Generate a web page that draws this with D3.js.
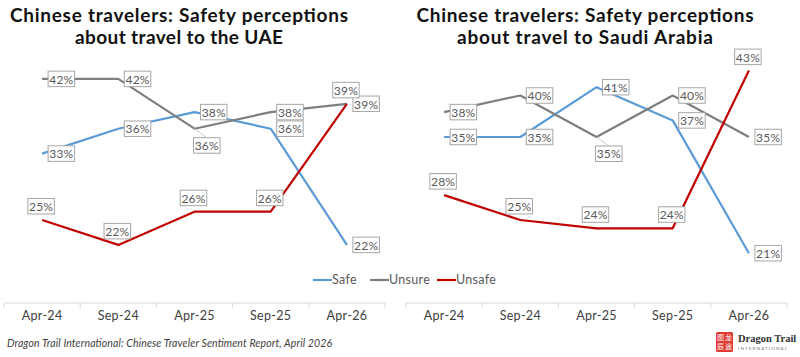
<!DOCTYPE html>
<html>
<head>
<meta charset="utf-8">
<script src="https://cdn.jsdelivr.net/npm/d3@7"></script>
<style>
  body { margin: 0; background: #fff; }
  svg { display: block; }
</style>
</head>
<body>
<svg id="chart" width="800" height="357"></svg>
<script>
// categories and values
const categories = ["Apr-24", "Sep-24", "Apr-25", "Sep-25", "Apr-26"];
const seriesNames = ["Safe", "Unsure", "Unsafe"];

const uaeSafe = [33, 36, 38, 36, 22];
const uaeUnsure = [42, 42, 36, 38, 39];
const uaeUnsafe = [25, 22, 26, 26, 39];

const saudiSafe = [35, 35, 41, 37, 21];
const saudiUnsure = [38, 40, 35, 40, 35];
const saudiUnsafe = [28, 25, 24, 24, 43];

const yDomain = [15, 45];

// where each data label sits: r = right of point, a = above, b = below (with leader)
const uaeLabelPos = [["r", "r", "r", "r", "r"], ["r", "r", "b", "r", "r"], ["a", "a", "a", "a", "a"]];
const saudiLabelPos = [["r", "r", "r", "r", "r"], ["r", "r", "b", "r", "r"], ["a", "a", "a", "a", "a"]];

const colors = { Safe: "#5b9bd5", Unsure: "#7f7f7f", Unsafe: "#c00000" };
const FONT = "Lato, 'Open Sans', sans-serif";

const svg = d3.select("#chart");

function drawChart(opts) {
  const g = svg.append("g").attr("class", "panel");
  const x = d3.scaleBand().domain(categories).range(opts.xRange);
  const y = d3.scaleLinear().domain(yDomain).range([303, 54]);
  const cx = c => x(c) + x.bandwidth() / 2;

  // title, 2 lines, stretched to the reference's width
  opts.title.forEach((t, i) => {
    g.append("text")
      .attr("x", opts.titleX).attr("y", 22 + i * 21.5)
      .attr("text-anchor", "middle")
      .attr("textLength", opts.titleW[i]).attr("lengthAdjust", "spacing")
      .style("font-family", FONT).style("font-weight", "bold")
      .style("font-size", "19px").style("fill", "#111")
      .text(t);
  });

  // x axis
  const axis = g.append("g").attr("transform", "translate(0,303)")
    .call(d3.axisBottom(x).tickSize(0).tickPadding(8));
  axis.select(".domain").remove();
  axis.selectAll("text").style("font-family", FONT).style("font-size", "12.5px")
    .style("letter-spacing", "0.3px").style("fill", "#404040");
  g.append("line")
    .attr("x1", opts.xRange[0]).attr("x2", opts.xRange[1])
    .attr("y1", 303).attr("y2", 303)
    .attr("stroke", "#d9d9d9").attr("stroke-width", 1);
  const bounds = categories.map(c => x(c)).concat([opts.xRange[1]]);
  g.selectAll("line.btick").data(bounds).enter().append("line")
    .attr("class", "btick")
    .attr("x1", d => d).attr("x2", d => d)
    .attr("y1", 303).attr("y2", 308)
    .attr("stroke", "#d9d9d9");

  const line = d3.line().x((d, i) => cx(categories[i])).y(d => y(d));

  // lines
  opts.series.forEach((vals, si) => {
    g.append("path")
      .datum(vals)
      .attr("d", line)
      .attr("fill", "none")
      .attr("stroke", colors[seriesNames[si]])
      .attr("stroke-width", 2.2)
      .attr("stroke-linejoin", "round");
  });

  // data labels
  opts.series.forEach((vals, si) => {
    vals.forEach((v, i) => {
      const px = cx(categories[i]), py = y(v);
      const pos = opts.labelPos[si][i];
      const lg = g.append("g");
      const txt = lg.append("text")
        .style("font-family", FONT).style("font-size", "12px")
        .style("letter-spacing", "0.2px")
        .style("fill", "#595959")
        .attr("text-anchor", "middle")
        .attr("dy", "0.35em")
        .text(v + "%");
      const w = 26.5, h = 15.5;
      let bx, by;
      if (pos === "r") { bx = px + 6; by = py - h / 2; }
      else if (pos === "a") { bx = px - w / 2 - 1; by = py - 6 - h; }
      else { bx = px - 1; by = py + 9; }
      if (pos === "b") {
        lg.append("line")
          .attr("x1", px).attr("y1", py)
          .attr("x2", bx + w / 2).attr("y2", by)
          .attr("stroke", "#bfbfbf").attr("stroke-width", 0.8);
      }
      lg.insert("rect", "text")
        .attr("x", bx).attr("y", by)
        .attr("width", w).attr("height", h)
        .attr("fill", "#fff")
        .attr("stroke", "#a6a6a6").attr("stroke-width", 1);
      txt.attr("x", bx + w / 2).attr("y", by + h / 2 + 0.5);
    });
  });
}

drawChart({
  xRange: [4, 385],
  titleX: 179,
  titleW: [338, 208],
  title: ["Chinese travelers: Safety perceptions", "about travel to the UAE"],
  series: [uaeSafe, uaeUnsure, uaeUnsafe],
  labelPos: uaeLabelPos
});

drawChart({
  xRange: [406, 787],
  titleX: 585,
  titleW: [337, 256],
  title: ["Chinese travelers: Safety perceptions", "about travel to Saudi Arabia"],
  series: [saudiSafe, saudiUnsure, saudiUnsafe],
  labelPos: saudiLabelPos
});

// legend
const legendX = [313, 370, 437];
const legend = svg.append("g").attr("class", "legend");
seriesNames.forEach((name, i) => {
  legend.append("line")
    .attr("x1", legendX[i]).attr("x2", legendX[i] + 19)
    .attr("y1", 280).attr("y2", 280)
    .attr("stroke", colors[name]).attr("stroke-width", 2.2);
  legend.append("text")
    .attr("x", legendX[i] + 19).attr("y", 280).attr("dy", "0.35em")
    .style("font-family", FONT).style("font-size", "12.5px")
    .style("letter-spacing", "0.3px").style("fill", "#595959")
    .text(name);
});

// footer source
svg.append("text")
  .attr("x", 7).attr("y", 347)
  .attr("textLength", 325).attr("lengthAdjust", "spacing")
  .style("font-family", FONT).style("font-style", "italic")
  .style("font-size", "10.5px").style("fill", "#404040")
  .text("Dragon Trail International: Chinese Traveler Sentiment Report, April 2026");

// logo
const logo = svg.append("g").attr("transform", "translate(716,332)");
logo.append("rect").attr("width", 17).attr("height", 20).attr("rx", 1.5).attr("fill", "#e03a30");
[["图", 4.5, 8], ["龙", 12.5, 8], ["辰", 4.5, 17], ["途", 12.5, 17]].forEach(d => {
  logo.append("text").attr("x", d[1]).attr("y", d[2]).attr("text-anchor", "middle")
    .style("font-family", "'Noto Sans CJK SC'").style("font-size", "7px").style("fill", "#fff")
    .text(d[0]);
});
logo.append("text").attr("x", 22).attr("y", 9.5)
  .style("font-family", "'Liberation Serif', serif").style("font-weight", "bold")
  .style("font-size", "10.5px").style("fill", "#333")
  .text("Dragon Trail");
logo.append("text").attr("x", 22).attr("y", 17.5)
  .style("font-family", FONT).style("font-size", "4.6px")
  .style("letter-spacing", "1.1px").style("fill", "#777")
  .text("INTERNATIONAL");
</script>
</body>
</html>
